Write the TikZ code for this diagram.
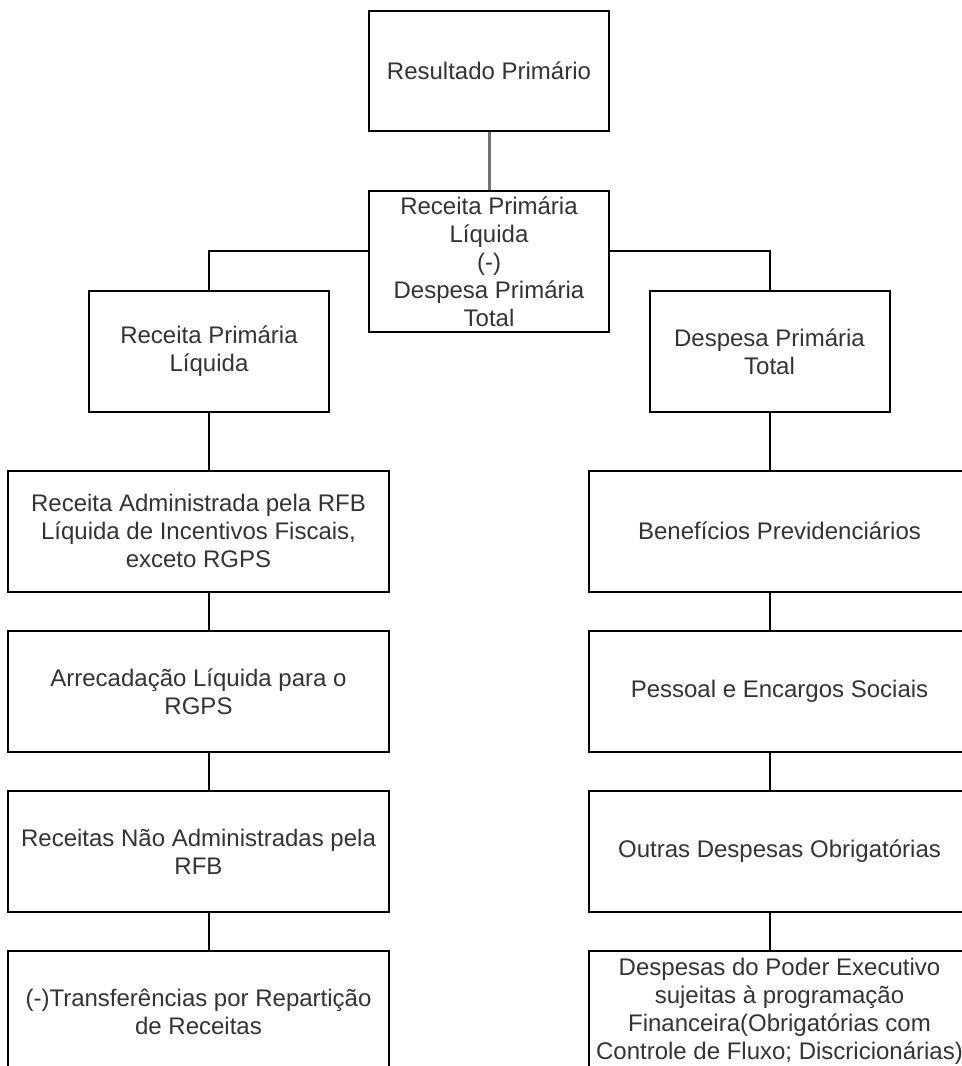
\documentclass[tikz,border=0pt]{standalone}
\usepackage{fontspec}
\setmainfont{Liberation Sans}

\begin{document}
\begin{tikzpicture}
        [%%%%%%%%%%%%%%%%%%%%%%%%%%%%%%
        x=0.5pt,y=-0.5pt,
        box/.style={rectangle,draw=black,line width=1pt,align=center,inner sep=0pt,
                    text=black!80,font=\fontsize{12}{14}\selectfont},
        small/.style={box,minimum width=120pt,minimum height=60.5pt},
        wide/.style={box,minimum width=190.5pt,minimum height=60.5pt},
        link/.style={draw=black,line width=1pt},
        ]%%%%%%%%%%%%%%%%%%%%%%%%%%%%%%
        
        \useasboundingbox (0,0) rectangle (962,1066);
        \clip (0,0) rectangle (962,1066);
        
        \node[small,minimum height=60pt] (res) at (489,71) {Resultado Primário};
        \node[small,minimum height=70.5pt] (saldo) at (489,261.5)
          {Receita Primária\\Líquida\\(-)\\Despesa Primária\\Total};
        \node[small] (rpl) at (209,351.5) {Receita Primária\\Líquida};
        \node[small] (dpt) at (769.5,351.5) {Despesa Primária\\Total};
        
        % receitas
        \node[wide] (rec1) at (198.5,531) {Receita Administrada pela RFB\\Líquida de Incentivos Fiscais,\\exceto RGPS};
        \node[wide] (rec2) at (198.5,691.5) {Arrecadação Líquida para o\\RGPS};
        \node[wide] (rec3) at (198.5,851.5) {Receitas Não Administradas pela\\RFB};
        \node[wide] (rec4) at (198.5,1011.5) {(-)Transferências por Repartição\\de Receitas};
        
        % despesas
        \node[wide] (des1) at (779.5,531) {Benefícios Previdenciários};
        \node[wide] (des2) at (779.5,691.5) {Pessoal e Encargos Sociais};
        \node[wide] (des3) at (779.5,851.5) {Outras Despesas Obrigatórias};
        \node[wide] (des4) at (779.5,1011.5) {Despesas do Poder Executivo\\sujeitas à programação\\Financeira(Obrigatórias com\\Controle de Fluxo; Discricionárias)};
        
        \draw[link,draw=black!55,line width=1.5pt] (res) -- (saldo);
        \draw[link] ([yshift=5.25pt]saldo.west) -| (rpl);
        \draw[link] ([yshift=5.25pt]saldo.east) -| (dpt);
        
        \draw[link] (rpl) -- (rpl |- rec1.north);
        \foreach \a/\b in {rec1/rec2,rec2/rec3,rec3/rec4}
          \draw[link] (\a.south -| rpl) -- (\b.north -| rpl);
        
        \draw[link] (dpt) -- (dpt |- des1.north);
        \foreach \a/\b in {des1/des2,des2/des3,des3/des4}
          \draw[link] (\a.south -| dpt) -- (\b.north -| dpt);
        
      \end{tikzpicture}
\end{document}
